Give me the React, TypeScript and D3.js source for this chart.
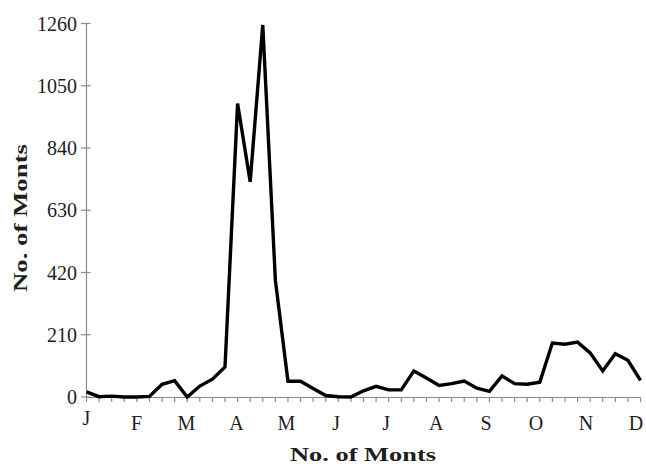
import React, { useRef, useEffect } from "react";
import * as d3 from "d3";

// weekly counts, Jan to Dec
const counts = [
  17, 1, 3, 0, 0, 2, 43, 55, 0, 37, 60, 101,
  990, 726, 1255, 394, 53, 53, 29, 5, 1, 0,
  21, 36, 24, 24, 88, 64, 39, 45, 54, 30, 19,
  71, 45, 43, 50, 182, 178, 185, 149, 88, 146, 124, 56,
];
const months = ["J", "F", "M", "A", "M", "J", "J", "A", "S", "O", "N", "D"];
const yTicks = [0, 210, 420, 630, 840, 1050, 1260];

function App() {
  const svgRef = useRef<SVGSVGElement>(null);

  useEffect(() => {
    const svg = d3.select(svgRef.current);
    svg.selectAll("*").remove();

    const x = d3.scaleLinear().domain([0, counts.length - 1]).range([86.5, 640.5]);
    const y = d3.scaleLinear().domain([0, 1260]).range([397, 23.5]);
    const monthX = d3.scalePoint<number>().domain(d3.range(months.length)).range([86.5, 636]);

    const axisColor = "#8a8a8a";
    const textColor = "#1e1e1e";
    const font = "'Liberation Serif', 'Times New Roman', serif";

    // y axis
    svg.append("line")
      .attr("x1", 86.5).attr("x2", 86.5)
      .attr("y1", y(1260)).attr("y2", y(0))
      .attr("stroke", axisColor).attr("stroke-width", 1.2);
    svg.selectAll(".ytick")
      .data(yTicks)
      .enter()
      .append("line")
      .attr("x1", 81).attr("x2", 90.5)
      .attr("y1", (d) => y(d)).attr("y2", (d) => y(d))
      .attr("stroke", axisColor).attr("stroke-width", 1.2);
    svg.selectAll(".ylab")
      .data(yTicks)
      .enter()
      .append("text")
      .attr("x", 77)
      .attr("y", (d) => y(d) + 7)
      .attr("text-anchor", "end")
      .style("font-family", font)
      .style("font-size", "20px")
      .attr("fill", textColor)
      .text((d) => d);

    // x axis
    svg.append("line")
      .attr("x1", 86.5).attr("x2", 641)
      .attr("y1", y(0) + 0.5).attr("y2", y(0) + 0.5)
      .attr("stroke", axisColor).attr("stroke-width", 1.2);
    svg.selectAll(".xtick")
      .data(counts)
      .enter()
      .append("line")
      .attr("x1", (d, i) => x(i)).attr("x2", (d, i) => x(i))
      .attr("y1", y(0)).attr("y2", y(0) + 5)
      .attr("stroke", axisColor).attr("stroke-width", 1.2);
    svg.selectAll(".xlab")
      .data(months)
      .enter()
      .append("text")
      .attr("x", (d, i) => monthX(i) as number)
      .attr("y", (d, i) => (i === 0 ? 425 : 430))
      .attr("text-anchor", "middle")
      .style("font-family", font)
      .style("font-size", "20px")
      .attr("fill", textColor)
      .text((d) => d);

    // titles
    svg.append("text")
      .attr("x", 363)
      .attr("y", 461)
      .attr("text-anchor", "middle")
      .attr("textLength", 146)
      .attr("lengthAdjust", "spacingAndGlyphs")
      .style("font-family", font)
      .style("font-size", "19px")
      .style("font-weight", "bold")
      .attr("fill", textColor)
      .text("No. of Monts");
    svg.append("text")
      .attr("transform", "translate(27,218) rotate(-90)")
      .attr("text-anchor", "middle")
      .attr("textLength", 148)
      .attr("lengthAdjust", "spacingAndGlyphs")
      .style("font-family", font)
      .style("font-size", "19px")
      .style("font-weight", "bold")
      .attr("fill", textColor)
      .text("No. of Monts");

    // the line
    const line = d3.line<number>()
      .x((d, i) => x(i))
      .y((d) => y(d));
    svg.append("path")
      .datum(counts)
      .attr("d", line)
      .attr("fill", "none")
      .attr("stroke", "#000")
      .attr("stroke-width", 3.4)
      .attr("stroke-linejoin", "miter");
  }, []);

  return (
    <svg
      ref={svgRef}
      width={646}
      height={464}
      style={{ position: "absolute", left: 0, top: 0, background: "#fff" }}
    />
  );
}

export default App;
